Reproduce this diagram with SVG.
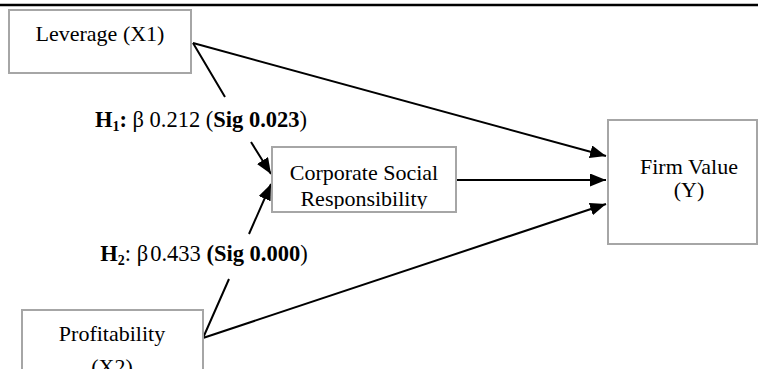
<svg xmlns="http://www.w3.org/2000/svg" width="758" height="369" viewBox="0 0 758 369">
<style>
.box{fill:#fff;stroke:#a6a6a6;stroke-width:2}
.t{font-family:"Liberation Serif","Times New Roman",serif;font-size:22px;fill:#000;text-anchor:middle}
.lbl{font-family:"Liberation Serif","Times New Roman",serif;font-size:22.5px;fill:#000;text-anchor:middle}
.b{font-weight:bold}
.con{fill:none;stroke:#000;stroke-width:2}
</style>
<defs>
<marker id="arr" markerUnits="userSpaceOnUse" markerWidth="17" markerHeight="14" refX="16" refY="6.5" orient="auto">
<path d="M0,0 L16,6.5 L0,13 z" fill="#000"/>
</marker>
<clipPath id="csrClip"><rect x="273" y="148" width="183" height="61"/></clipPath>
</defs>
<rect width="758" height="369" fill="#fff"/>
<line x1="0" y1="5" x2="758" y2="5" stroke="#000" stroke-width="2.5"/>
<g id="connectors">
<path class="con" d="M193,43 L606,156" marker-end="url(#arr)"/>
<path class="con" d="M193,43 L225,97 M251,142 L271,174" marker-end="url(#arr)"/>
<path class="con" d="M203,338 L229,279 M249,234 L271,184" marker-end="url(#arr)"/>
<path class="con" d="M457,180 L606,180" marker-end="url(#arr)"/>
<path class="con" d="M203,338 L606,204" marker-end="url(#arr)"/>
</g>
<g id="leverage">
<rect class="box" x="9" y="10" width="182" height="63"/>
<text class="t" x="100" y="41">Leverage (X1)</text>
</g>
<g id="csr">
<rect class="box" x="272" y="147" width="184" height="65"/>
<g clip-path="url(#csrClip)">
<text class="t" x="364" y="180">Corporate Social</text>
<text class="t" x="364" y="206">Responsibility</text>
</g>
</g>
<g id="firmvalue">
<rect class="box" x="608" y="120" width="149" height="124"/>
<text class="t" x="689" y="174">Firm Value</text>
<text class="t" x="689" y="197">(Y)</text>
</g>
<g id="profitability">
<rect class="box" x="22" y="310" width="181" height="80"/>
<text class="t" x="112" y="341">Profitability</text>
<text class="t" x="112" y="374">(X2)</text>
</g>
<g id="labels">
<text class="lbl" x="201" y="127"><tspan class="b">H</tspan><tspan class="b" font-size="14" dy="4">1</tspan><tspan class="b" dy="-4">:</tspan> β 0.212 (<tspan class="b">Sig 0.023</tspan>)</text>
<text class="lbl" x="204" y="261"><tspan class="b">H</tspan><tspan class="b" font-size="14" dy="4">2</tspan><tspan dy="-4">: β</tspan><tspan dx="2">0.433 </tspan><tspan class="b">(Sig 0.000</tspan>)</text>
</g>
</svg>
